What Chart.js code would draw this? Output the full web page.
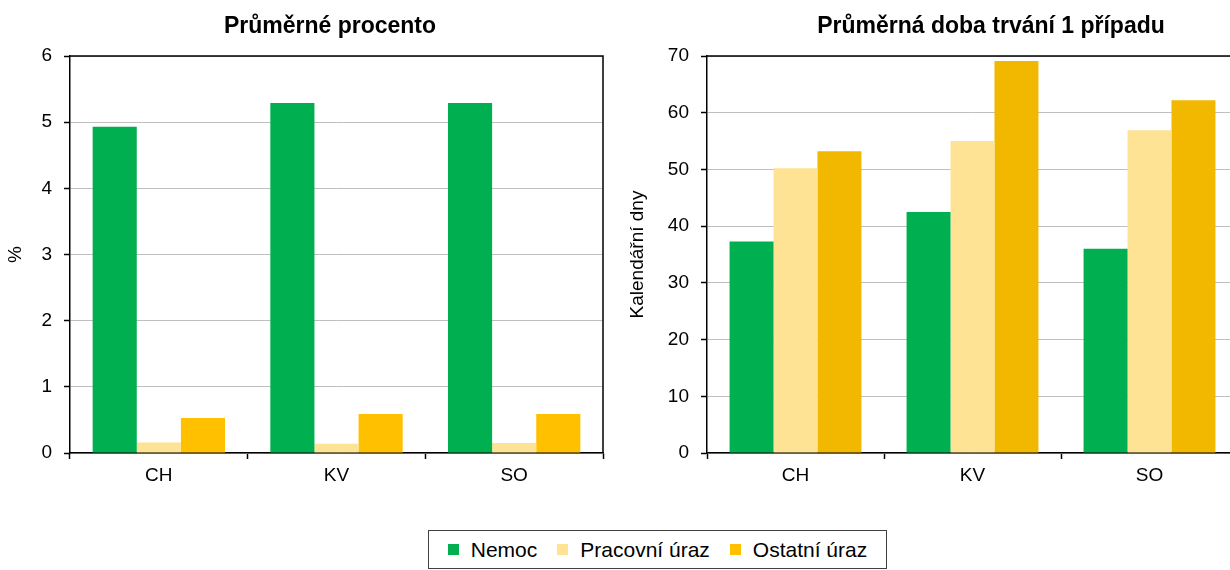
<!DOCTYPE html>
<html>
<head>
<meta charset="utf-8">
<script src="https://cdn.jsdelivr.net/npm/chart.js@4.4.1/dist/chart.umd.min.js"></script>
<style>
  html, body { margin:0; padding:0; background:#fff; overflow:hidden; }
  #page { position:relative; width:1230px; height:570px; overflow:hidden; font-family:"Liberation Sans", Arial, sans-serif; }
  .wrap { position:absolute; top:0; height:500px; }
  .ttl { position:absolute; top:12px; font-weight:bold; font-size:23px; color:#000; white-space:nowrap; transform:translateX(-50%); }
  #legend { position:absolute; left:428px; top:530px; width:457px; height:37px; border:1px solid #404040; display:flex; align-items:center; justify-content:center; font-size:21px; color:#000; }
  .li { display:flex; align-items:center; margin:0 10px; }
  .sw { width:11px; height:11px; margin-right:12px; }
</style>
</head>
<body>
<div id="page">
  <div class="wrap" style="left:0;width:620px;"><canvas id="c1"></canvas></div>
  <div class="wrap" style="left:620px;width:630px;"><canvas id="c2"></canvas></div>
  <div class="ttl" id="t1" style="left:330px;"></div>
  <div class="ttl" id="t2" style="left:991px;"></div>
  <div id="legend"></div>
</div>
<script>
// ---- data ----
const categories = ["CH", "KV", "SO"];
const seriesNames = ["Nemoc", "Pracovní úraz", "Ostatní úraz"];
const titleLeft = "Průměrné procento";
const titleRight = "Průměrná doba trvání 1 případu";
const yTitleLeft = "%";
const yTitleRight = "Kalendářní dny";
const pctNemoc = [4.93, 5.29, 5.29];
const pctPracovni = [0.16, 0.14, 0.15];
const pctOstatni = [0.53, 0.59, 0.59];
const dobaNemoc = [37.3, 42.5, 36.0];
const dobaPracovni = [50.2, 55.0, 56.9];
const dobaOstatni = [53.2, 69.1, 62.2];
const leftTicks = [0, 1, 2, 3, 4, 5, 6];
const rightTicks = [0, 10, 20, 30, 40, 50, 60, 70];

// ---- styles ----
const GREEN = "#00b050", PALE = "#fee395", ORANGE = "#ffc000", ORANGE2 = "#f2b800";
const FONT = "'Liberation Sans', Arial, sans-serif";

document.getElementById("t1").textContent = titleLeft;
document.getElementById("t2").textContent = titleRight;

const legendColors = [GREEN, PALE, ORANGE];
const lg = document.getElementById("legend");
seriesNames.forEach((n, i) => {
  const it = document.createElement("div"); it.className = "li";
  const sw = document.createElement("div"); sw.className = "sw"; sw.style.background = legendColors[i];
  const tx = document.createElement("span"); tx.textContent = n;
  it.appendChild(sw); it.appendChild(tx); lg.appendChild(it);
});

const boxPlugin = {
  id: "box",
  afterDatasetsDraw(chart) {
    const a = chart.chartArea, ctx = chart.ctx;
    ctx.save();
    ctx.strokeStyle = "#000"; ctx.lineWidth = 1.5;
    ctx.beginPath();
    ctx.moveTo(a.left, a.top); ctx.lineTo(a.right, a.top); ctx.lineTo(a.right, a.bottom);
    ctx.stroke();
    ctx.restore();
  }
};

function makeChart(id, data, colors, ticks, yTitle, yWidth, titlePadTop, padRight) {
  const max = ticks[ticks.length - 1];
  const step = ticks[1] - ticks[0];
  return new Chart(document.getElementById(id), {
    type: "bar",
    data: {
      labels: categories,
      datasets: data.map((d, i) => ({
        label: seriesNames[i], data: d, backgroundColor: colors[i], borderWidth: 0,
        categoryPercentage: 0.745, barPercentage: 1
      }))
    },
    options: {
      responsive: true, maintainAspectRatio: false, animation: false,
      layout: { padding: { top: 56, right: padRight, left: 0, bottom: 0 } },
      plugins: { legend: { display: false }, tooltip: { enabled: false }, title: { display: false } },
      scales: {
        x: {
          grid: { display: true, offset: true, drawOnChartArea: false, drawTicks: true, tickLength: 6, tickColor: "#000", tickWidth: 1.5 },
          border: { display: true, color: "#000", width: 1.5 },
          ticks: { color: "#000", font: { family: FONT, size: 19 }, padding: 5 },
          afterFit: s => { s.height = 47; }
        },
        y: {
          min: 0, max: max,
          afterBuildTicks: s => { s.ticks = ticks.map(v => ({ value: v })); },
          grid: { color: "#bfbfbf", lineWidth: 1, drawTicks: true, tickLength: 6, tickColor: "#000", tickWidth: 1.5 },
          border: { display: true, color: "#000", width: 1.5 },
          ticks: { color: "#000", font: { family: FONT, size: 19 }, padding: 12, stepSize: step },
          title: { display: true, text: yTitle, color: "#000", font: { family: FONT, size: 19 }, padding: { top: titlePadTop, bottom: 0 } },
          afterFit: s => { s.width = yWidth; }
        }
      }
    },
    plugins: [boxPlugin]
  });
}

makeChart("c1", [pctNemoc, pctPracovni, pctOstatni], [GREEN, PALE, ORANGE], leftTicks, yTitleLeft, 70, 4, 17);
makeChart("c2", [dobaNemoc, dobaPracovni, dobaOstatni], [GREEN, PALE, ORANGE2], rightTicks, yTitleRight, 87, 6, 12);
</script>
</body>
</html>
